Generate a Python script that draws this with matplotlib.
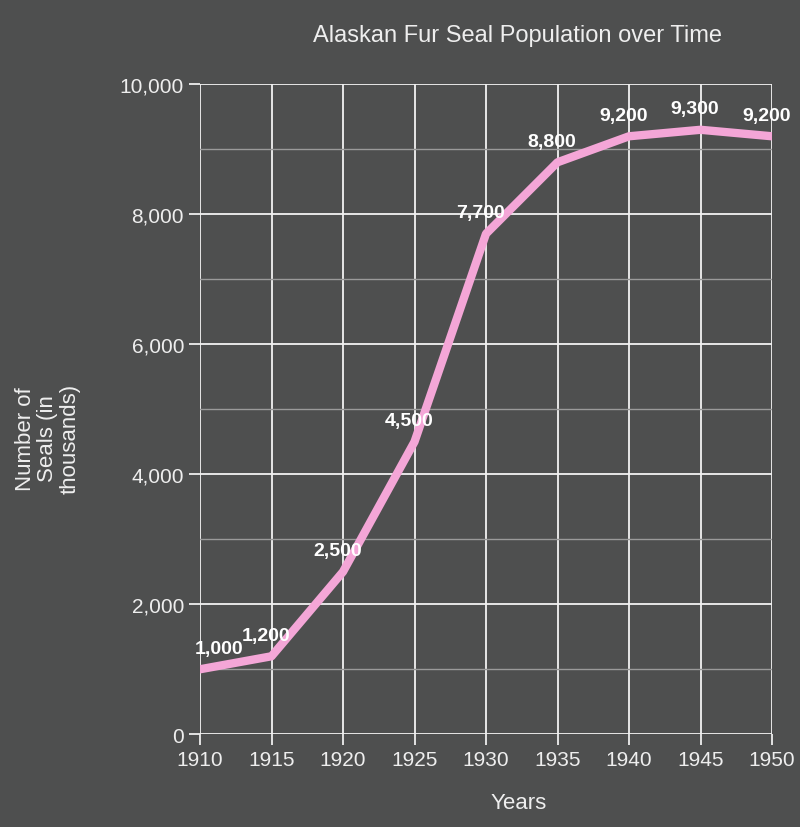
import numpy as np
import matplotlib.pyplot as plt
from matplotlib.ticker import MultipleLocator, FuncFormatter

years = [1910, 1915, 1920, 1925, 1930, 1935, 1940, 1945, 1950]
seals = [1000, 1200, 2500, 4500, 7700, 8800, 9200, 9300, 9200]
labels = ['1,000', '1,200', '2,500', '4,500', '7,700', '8,800', '9,200', '9,300', '9,200']

plt.rcParams['font.family'] = ['Liberation Sans', 'DejaVu Sans']

bg = '#4e4f4f'
fg = '#eeeeee'

fig = plt.figure(figsize=(8, 8.28), dpi=100, facecolor=bg)
ax = fig.add_axes([0.25, 0.112, 0.715, 0.785], facecolor=bg)

ax.plot(years, seals, color='#f4a6d7', lw=6, solid_capstyle='round', zorder=3)

for x, y, t in zip(years, seals, labels):
    ax.annotate(t, (x, y), xytext=(-4, 9), textcoords='offset points',
                ha='left' if x == 1910 else 'center', va='bottom',
                color='white', fontsize=14, fontweight='bold', zorder=4)

ax.set_xlim(1910, 1950)
ax.set_ylim(0, 10000)
ax.set_xticks(years)
ax.yaxis.set_major_locator(MultipleLocator(2000))
ax.yaxis.set_minor_locator(MultipleLocator(1000))
ax.yaxis.set_major_formatter(FuncFormatter(lambda v, p: f'{int(v):,}'))

ax.grid(True, which='major', color='#f2f2f2', lw=1.3)
ax.grid(True, which='minor', axis='y', color='#9a9a9a', lw=1)
ax.tick_params(which='major', colors=fg, labelsize=15, length=8, width=1.3)
ax.tick_params(which='minor', length=0)
for s in ax.spines.values():
    s.set_visible(False)

fig.text(0.647, 0.957, 'Alaskan Fur Seal Population over Time', ha='center', va='center',
         color=fg, fontsize=17)
fig.text(0.06, 0.47, 'Number of\nSeals (in\nthousands)', rotation=90, ha='center', va='center',
         color=fg, fontsize=16, linespacing=1.1)
fig.text(0.648, 0.03, 'Years', ha='center', va='center', color=fg, fontsize=16)

fig.savefig('out.png', dpi=100, facecolor=bg)
